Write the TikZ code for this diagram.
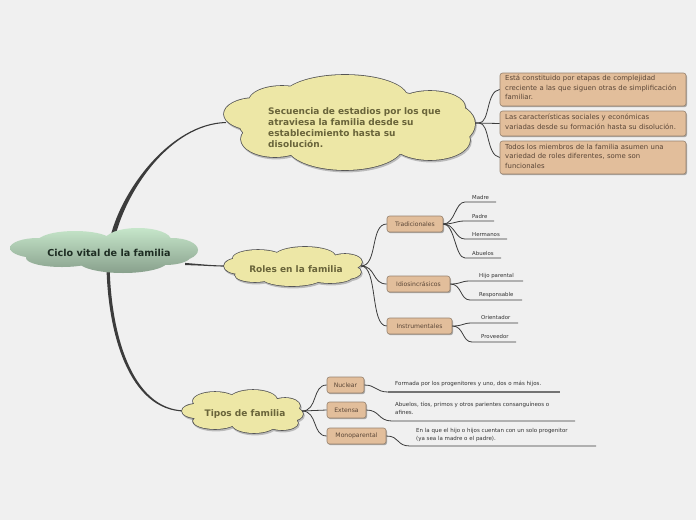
\documentclass[tikz,border=0pt]{standalone}
\usepackage{fontspec}
\setmainfont{DejaVu Sans}
\usetikzlibrary{shadows}
\definecolor{bg}{RGB}{240,240,240}
\definecolor{yfill}{RGB}{237,231,166}
\definecolor{yline}{RGB}{85,85,85}
\definecolor{ytext}{RGB}{105,100,58}
\definecolor{ofill}{RGB}{226,190,155}
\definecolor{oline}{RGB}{150,130,110}
\definecolor{otext}{RGB}{90,70,55}
\definecolor{gtop}{RGB}{198,230,202}
\definecolor{gbot}{RGB}{136,160,140}
\definecolor{ctext}{RGB}{30,45,35}
\definecolor{conn}{RGB}{60,60,60}
\tikzset{
  hold/.style={inner sep=0pt, draw=none},
  ytxt/.style={font=\fontsize{9}{11}\selectfont\bfseries, text=ytext, inner sep=0pt},
  obox/.style={draw=oline, line width=0.6pt, fill=ofill, rounded corners=2.5pt, inner sep=0pt,
     drop shadow={shadow xshift=1pt, shadow yshift=-1.2pt, fill=black, opacity=0.3}},
  otxt/.style={font=\fontsize{6.9}{9.5}\selectfont, text=otext, align=left, text width=178pt, inner sep=0pt, anchor=north west},
  olab/.style={font=\fontsize{6.1}{7}\selectfont, text=otext},
  leaf/.style={font=\fontsize{5.4}{8}\selectfont, text=black!80, inner sep=0pt, anchor=base west},
  tleaf/.style={font=\fontsize{5.5}{8}\selectfont, text=black!80, inner sep=0pt, anchor=north west, align=left},
  thin/.style={draw=conn, line width=0.8pt},
  guline/.style={draw=black!55, line width=1.1pt},
}
% yellow cloud made of overlapping ellipses: cx/cy/rx/ry
\newcommand{\ycloudshape}[1]{%
  \fill[black, opacity=0.22] \foreach \cx/\cy/\rx/\ry in {#1} { (\cx+1,\cy+1.6) ellipse [x radius={\rx*1pt+0.8pt}, y radius={\ry*1pt+0.8pt}] };
  \fill[yline] \foreach \cx/\cy/\rx/\ry in {#1} { (\cx,\cy) ellipse [x radius={\rx*1pt+0.8pt}, y radius={\ry*1pt+0.8pt}] };
  \fill[yfill] \foreach \cx/\cy/\rx/\ry in {#1} { (\cx,\cy) ellipse [x radius={\rx*1pt}, y radius={\ry*1pt}] };
}
\begin{document}
\begin{tikzpicture}[x=1pt,y=-1pt]
\fill[bg] (0,0) rectangle (696,520);
\useasboundingbox (0,0) rectangle (696,520);

% invisible holders giving names to the clouds
\node[hold, minimum width=188pt, minimum height=48pt] (ctr) at (104,250) {};
\node[hold, minimum width=251pt, minimum height=95pt] (seq) at (349.5,122.5) {};
\node[hold, minimum width=138pt, minimum height=38pt] (roles) at (293,266) {};
\node[hold, minimum width=121pt, minimum height=40pt] (tipos) at (242.5,411) {};

% ---------- main tapered connectors ----------
\coordinate (ta) at (113,236);
\coordinate (tb) at ([xshift=2pt]seq.west);
\fill[conn] ([xshift=-2.4pt]ta) .. controls (122,190) and (170,123.5) .. ([yshift=0.5pt]tb)
   -- ([yshift=-0.5pt]tb) .. controls (170,125) and (127,190) .. ([xshift=2.4pt]ta) -- cycle;
\coordinate (ma) at (185,264);
\coordinate (mb) at ([xshift=3pt]roles.west);
\fill[conn] ([yshift=1.1pt]ma) .. controls (205,264.5) and (212,265.5) .. ([yshift=0.6pt]mb)
   -- ([yshift=-0.6pt]mb) .. controls (212,266.5) and (205,265.5) .. ([yshift=-1.1pt]ma) -- cycle;
\coordinate (ba) at (108,262);
\coordinate (bb) at ([xshift=3pt]tipos.west);
\fill[conn] ([xshift=-1.6pt]ba) .. controls (107,333) and (129,411) .. ([yshift=-0.5pt]bb)
   -- ([yshift=0.5pt]bb) .. controls (131,409.5) and (110,331) .. ([xshift=1.6pt]ba) -- cycle;

% ---------- central cloud ----------
\shade[top color=gtop, bottom color=gbot]
  \foreach \cx/\cy/\rx/\ry in {38/248/28/10, 75/242/38/11, 138/240/33/12, 172/250/26/12,
                               62/258/36/9, 123/261/45/12, 165/256/26/9, 104/250/72/14}
  { (\cx,\cy) ellipse [x radius={\rx*1pt}, y radius={\ry*1pt}] };
\node[font=\fontsize{9.6}{11}\selectfont\bfseries, text=ctext, inner sep=0pt] (ctrt) at (109,253) {Ciclo vital de la familia};

% ---------- big yellow cloud ----------
\ycloudshape{255/114/31/16, 282/101/33/15, 345/97/62/22, 430/107/35/16, 446/124/29/21,
             430/140/40/20, 345/146/58/24, 275/139/34/18, 349/123/110/35}
\node[ytxt, align=left, text width=180pt, anchor=north west] (seqt) at (268,107.5)
  {Secuencia de estadios por los que\\atraviesa la familia desde su\\establecimiento hasta su\\disolución.};

% right boxes
\node[obox, minimum width=186pt, minimum height=33pt] (r1) at (593,89.5) {};
\node[otxt] at (505,75) {Está constituido por etapas de complejidad\\creciente a las que siguen otras de simplificación\\familiar.};
\node[obox, minimum width=186pt, minimum height=25pt] (r2) at (593,123.5) {};
\node[otxt] at (505,114) {Las características sociales y económicas\\variadas desde su formación hasta su disolución.};
\node[obox, minimum width=186pt, minimum height=33pt] (r3) at (593,157.5) {};
\node[otxt] at (505,144) {Todos los miembros de la familia asumen una\\variedad de roles diferentes, some son\\funcionales};

\coordinate (sj) at (475,123);
\draw[thin] (sj) -- (479,123) .. controls (490,123) and (486,91) .. (r1.west);
\draw[thin] (sj) -- (r2.west);
\draw[thin] (sj) -- (479,123) .. controls (490,123) and (486,155) .. (r3.west);

% ---------- Roles cloud ----------
\ycloudshape{240/266/16/8, 258/258/25/8, 305/256/30/9, 345/262/17/8, 346/272/15/7,
             330/277/22/6, 292/278/30/8, 255/275/20/7, 293/266/55/12}
\node[ytxt] (rolest) at (296,269) {Roles en la familia};

\node[obox, minimum width=56pt, minimum height=16pt] (trad) at (415,224) {};
\node[olab] at (trad) {Tradicionales};
\node[obox, minimum width=63pt, minimum height=16pt] (idio) at (418.5,284) {};
\node[olab] at (idio) {Idiosincrásicos};
\node[obox, minimum width=65pt, minimum height=16pt] (inst) at (419.5,326) {};
\node[olab] at (inst) {Instrumentales};

\coordinate (rj) at (361,266);
\draw[thin] (rj) .. controls (378,266) and (370,224) .. (trad.west);
\draw[thin] (rj) .. controls (376,266) and (372,284) .. (idio.west);
\draw[thin] (rj) .. controls (378,266) and (370,326) .. (inst.west);

% leaves of Tradicionales
\foreach \n/\t/\yl/\xe in {madre/Madre/202/496, padre/Padre/221/494, herm/Hermanos/239/507, abue/Abuelos/258/501}{
  \coordinate (\n a) at (465,\yl);
  \coordinate (\n b) at (\xe,\yl);
  \draw[thin] (trad.east) .. controls (455,224) and (455,\yl) .. (\n a) -- (\n b);
  \node[leaf] (\n) at (472,\yl-3) {\t};
}
% leaves of Idiosincrásicos
\foreach \n/\t/\yl/\xe in {hijo/Hijo parental/281/523, resp/Responsable/300/522}{
  \coordinate (\n a) at (470,\yl);
  \coordinate (\n b) at (\xe,\yl);
  \draw[thin] (idio.east) .. controls (462,284) and (460,\yl) .. (\n a) -- (\n b);
  \node[leaf] (\n) at (479,\yl-4) {\t};
}
% leaves of Instrumentales
\foreach \n/\t/\yl/\xe in {orie/Orientador/323/518, prov/Proveedor/342/516}{
  \coordinate (\n a) at (472,\yl);
  \coordinate (\n b) at (\xe,\yl);
  \draw[thin] (inst.east) .. controls (464,326) and (462,\yl) .. (\n a) -- (\n b);
  \node[leaf] (\n) at (481,\yl-4) {\t};
}

% ---------- Tipos cloud ----------
\ycloudshape{196/411/14/7, 215/401/22/9, 253/400/24/10, 285/406/15/8, 291/414/12/7,
             282/423/16/7, 254/424/22/9, 215/421/22/8, 243/412/45/12}
\node[ytxt] (tipost) at (245,414) {Tipos de familia};

\node[obox, minimum width=37pt, minimum height=16pt] (nuc) at (345.5,385) {};
\node[olab] at (nuc) {Nuclear};
\node[obox, minimum width=39pt, minimum height=16pt] (ext) at (346.5,410) {};
\node[olab] at (ext) {Extensa};
\node[obox, minimum width=59pt, minimum height=16pt] (mono) at (356.5,436) {};
\node[olab] at (mono) {Monoparental};

\coordinate (tj) at (302,411);
\draw[thin] (tj) .. controls (318,411) and (312,385) .. (nuc.west);
\draw[thin] (tj) .. controls (315,411) and (314,410) .. (ext.west);
\draw[thin] (tj) .. controls (318,411) and (312,436) .. (mono.west);

\coordinate (nla) at (388,392); \coordinate (nlb) at (560,392);
\draw[thin] (nuc.east) .. controls (376,385) and (376,392) .. (nla);
\draw[guline] (nla) -- (nlb);
\node[tleaf] (nuct) at (395,381) {Formada por los progenitores y uno, dos o más hijos.};

\coordinate (ela) at (392,421); \coordinate (elb) at (575,421);
\draw[thin] (ext.east) .. controls (380,410) and (378,421) .. (ela) -- (elb);
\node[tleaf] (extt) at (395,402) {Abuelos, tíos, primos y otros parientes consanguíneos o\\afines.};

\coordinate (mla) at (410,446); \coordinate (mlb) at (596,446);
\draw[thin] (mono.east) .. controls (400,436) and (396,446) .. (mla) -- (mlb);
\node[tleaf] (monot) at (416,428) {En la que el hijo o hijos cuentan con un solo progenitor\\(ya sea la madre o el padre).};
\end{tikzpicture}
\end{document}
